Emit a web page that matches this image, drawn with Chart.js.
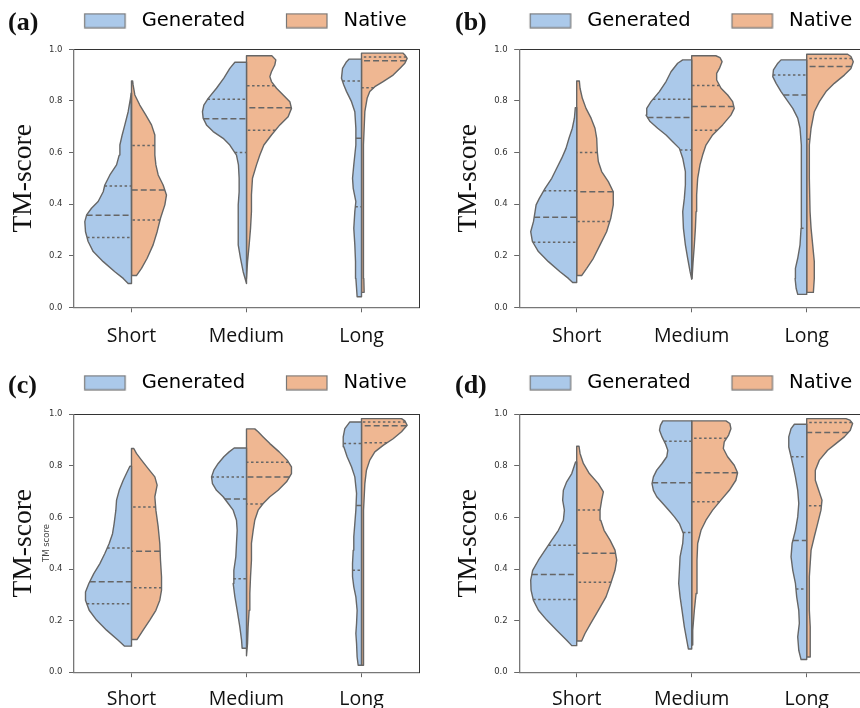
<!DOCTYPE html>
<html><head><meta charset="utf-8">
<script src="https://cdn.jsdelivr.net/npm/chart.js@4.4.0/dist/chart.umd.min.js"></script>
<style>
html,body{margin:0;padding:0;background:#fff;width:860px;height:708px;overflow:hidden;position:relative}
canvas{position:absolute}
</style></head><body>
<canvas id="ca" width="461" height="356" style="left:0px;top:0px"></canvas>
<canvas id="cb" width="492" height="356" style="left:430px;top:0px"></canvas>
<canvas id="cc" width="461" height="347" style="left:0px;top:361.5px"></canvas>
<canvas id="cd" width="492" height="347" style="left:430px;top:361.5px"></canvas>
<script>
// ---------- data ----------
const categories = ['Short', 'Medium', 'Long'];
const seriesLabels = ['Generated', 'Native'];
const panelTags = ['(a)', '(b)', '(c)', '(d)'];
const yTickValues = [0.0, 0.2, 0.4, 0.6, 0.8, 1.0];
const yTitle = 'TM-score';

// violin outlines: [TM-score, half width (category units)] from min to max
const aShortGen = [[0.092,0.029],[0.112,0.072],[0.138,0.145],[0.177,0.246],[0.216,0.333],[0.255,0.377],[0.293,0.40],[0.332,0.406],[0.358,0.39],[0.384,0.348],[0.41,0.29],[0.448,0.246],[0.474,0.232],[0.513,0.188],[0.552,0.13],[0.59,0.107],[0.629,0.101],[0.668,0.081],[0.707,0.058],[0.758,0.029],[0.81,0.009],[0.83,0.003]];
const aShortNat = [[0.123,0.043],[0.151,0.087],[0.19,0.136],[0.242,0.188],[0.293,0.223],[0.345,0.252],[0.397,0.29],[0.435,0.304],[0.474,0.275],[0.513,0.232],[0.552,0.212],[0.59,0.203],[0.629,0.203],[0.668,0.203],[0.707,0.174],[0.745,0.125],[0.784,0.072],[0.823,0.029],[0.862,0.014],[0.877,0.01]];
const aMediumGen = [[0.092,0.003],[0.138,0.029],[0.19,0.052],[0.242,0.072],[0.293,0.072],[0.345,0.072],[0.397,0.072],[0.448,0.064],[0.5,0.064],[0.552,0.07],[0.59,0.087],[0.629,0.145],[0.655,0.203],[0.681,0.29],[0.707,0.348],[0.733,0.377],[0.758,0.383],[0.784,0.371],[0.81,0.333],[0.849,0.261],[0.888,0.197],[0.926,0.145],[0.95,0.101]];
const aMediumNat = [[0.112,0.003],[0.177,0.009],[0.242,0.023],[0.306,0.035],[0.371,0.043],[0.435,0.043],[0.5,0.052],[0.552,0.087],[0.59,0.116],[0.629,0.151],[0.668,0.217],[0.707,0.29],[0.739,0.362],[0.771,0.391],[0.797,0.377],[0.823,0.319],[0.849,0.261],[0.875,0.217],[0.894,0.203],[0.913,0.217],[0.939,0.246],[0.959,0.255],[0.975,0.22]];
const aLongGen = [[0.041,0.038],[0.074,0.043],[0.112,0.049],[0.177,0.052],[0.242,0.058],[0.306,0.067],[0.371,0.058],[0.41,0.049],[0.461,0.072],[0.5,0.078],[0.552,0.067],[0.629,0.049],[0.694,0.049],[0.758,0.058],[0.797,0.087],[0.836,0.13],[0.862,0.154],[0.888,0.174],[0.926,0.165],[0.952,0.13],[0.962,0.107]];
const aLongNat = [[0.058,0.023],[0.112,0.02],[0.242,0.02],[0.371,0.014],[0.5,0.014],[0.629,0.02],[0.758,0.029],[0.81,0.049],[0.836,0.072],[0.855,0.116],[0.875,0.188],[0.9,0.275],[0.926,0.333],[0.946,0.377],[0.965,0.397],[0.978,0.377],[0.985,0.362]];

const bShortGen = [[0.096,0.035],[0.112,0.072],[0.138,0.145],[0.177,0.246],[0.216,0.333],[0.255,0.385],[0.293,0.40],[0.332,0.376],[0.371,0.362],[0.397,0.353],[0.422,0.325],[0.461,0.275],[0.5,0.217],[0.539,0.174],[0.578,0.13],[0.616,0.093],[0.655,0.067],[0.694,0.038],[0.733,0.02],[0.774,0.012]];
const bShortNat = [[0.123,0.043],[0.151,0.087],[0.19,0.145],[0.242,0.203],[0.293,0.26],[0.345,0.296],[0.397,0.318],[0.448,0.318],[0.487,0.275],[0.526,0.217],[0.565,0.188],[0.603,0.179],[0.655,0.174],[0.694,0.159],[0.733,0.125],[0.771,0.081],[0.81,0.049],[0.849,0.029],[0.877,0.023]];
const bMediumGen = [[0.109,0.003],[0.138,0.014],[0.19,0.035],[0.242,0.055],[0.306,0.072],[0.371,0.078],[0.422,0.064],[0.474,0.055],[0.526,0.055],[0.578,0.078],[0.616,0.107],[0.642,0.165],[0.668,0.223],[0.694,0.296],[0.72,0.362],[0.745,0.397],[0.771,0.391],[0.797,0.354],[0.836,0.281],[0.875,0.223],[0.913,0.18],[0.946,0.122],[0.959,0.078]];
const bMediumNat = [[0.112,0.003],[0.177,0.012],[0.242,0.023],[0.306,0.032],[0.371,0.038],[0.435,0.043],[0.5,0.052],[0.552,0.072],[0.59,0.095],[0.629,0.124],[0.668,0.182],[0.707,0.269],[0.745,0.341],[0.771,0.37],[0.797,0.356],[0.823,0.313],[0.849,0.255],[0.881,0.217],[0.907,0.217],[0.926,0.241],[0.952,0.264],[0.968,0.246],[0.975,0.21]];
const bLongGen = [[0.05,0.078],[0.074,0.092],[0.112,0.101],[0.151,0.098],[0.19,0.078],[0.242,0.058],[0.306,0.049],[0.371,0.049],[0.435,0.046],[0.5,0.046],[0.565,0.046],[0.629,0.046],[0.694,0.058],[0.733,0.078],[0.771,0.121],[0.804,0.173],[0.836,0.223],[0.868,0.266],[0.894,0.295],[0.92,0.289],[0.946,0.251],[0.959,0.223]];
const bLongNat = [[0.058,0.058],[0.112,0.066],[0.177,0.066],[0.242,0.052],[0.306,0.038],[0.371,0.029],[0.5,0.023],[0.629,0.023],[0.694,0.038],[0.758,0.066],[0.797,0.11],[0.836,0.168],[0.868,0.24],[0.9,0.327],[0.926,0.385],[0.952,0.405],[0.972,0.385],[0.981,0.356]];

const cShortGen = [[0.101,0.06],[0.124,0.116],[0.163,0.217],[0.202,0.304],[0.24,0.368],[0.279,0.40],[0.311,0.40],[0.344,0.371],[0.382,0.328],[0.421,0.275],[0.46,0.232],[0.499,0.194],[0.537,0.165],[0.576,0.151],[0.628,0.136],[0.667,0.13],[0.705,0.107],[0.744,0.072],[0.776,0.038],[0.798,0.014]];
const cShortNat = [[0.127,0.049],[0.163,0.101],[0.202,0.159],[0.24,0.212],[0.279,0.246],[0.318,0.261],[0.37,0.261],[0.434,0.252],[0.499,0.246],[0.563,0.232],[0.628,0.212],[0.68,0.203],[0.725,0.223],[0.757,0.203],[0.789,0.145],[0.822,0.087],[0.848,0.043],[0.867,0.02]];
const cMediumGen = [[0.093,0.038],[0.124,0.043],[0.176,0.058],[0.24,0.081],[0.292,0.101],[0.344,0.116],[0.395,0.11],[0.447,0.093],[0.499,0.087],[0.55,0.081],[0.589,0.087],[0.628,0.116],[0.654,0.159],[0.68,0.203],[0.705,0.261],[0.731,0.296],[0.757,0.304],[0.783,0.284],[0.809,0.246],[0.835,0.197],[0.854,0.151],[0.869,0.107]];
const cMediumNat = [[0.064,0.003],[0.111,0.009],[0.176,0.014],[0.24,0.023],[0.305,0.029],[0.37,0.035],[0.434,0.043],[0.499,0.043],[0.55,0.058],[0.589,0.072],[0.628,0.101],[0.654,0.145],[0.68,0.203],[0.705,0.275],[0.738,0.348],[0.77,0.391],[0.796,0.391],[0.822,0.354],[0.854,0.284],[0.886,0.203],[0.912,0.145],[0.932,0.101],[0.943,0.072]];
const cLongGen = [[0.027,0.029],[0.059,0.038],[0.111,0.043],[0.15,0.049],[0.189,0.043],[0.24,0.038],[0.292,0.049],[0.331,0.067],[0.37,0.078],[0.421,0.078],[0.473,0.072],[0.525,0.067],[0.576,0.058],[0.628,0.049],[0.693,0.043],[0.757,0.058],[0.796,0.087],[0.835,0.125],[0.874,0.154],[0.912,0.159],[0.944,0.145],[0.97,0.101]];
const cLongNat = [[0.027,0.014],[0.111,0.02],[0.24,0.02],[0.37,0.014],[0.499,0.014],[0.628,0.02],[0.731,0.029],[0.783,0.043],[0.822,0.072],[0.854,0.116],[0.879,0.188],[0.905,0.275],[0.932,0.348],[0.957,0.397],[0.974,0.377],[0.983,0.348]];

const dShortGen = [[0.103,0.043],[0.124,0.087],[0.163,0.174],[0.202,0.26],[0.24,0.333],[0.279,0.377],[0.318,0.397],[0.357,0.40],[0.395,0.383],[0.434,0.333],[0.473,0.275],[0.512,0.217],[0.55,0.159],[0.589,0.116],[0.628,0.107],[0.667,0.122],[0.705,0.116],[0.738,0.087],[0.77,0.043],[0.815,0.01]];
const dShortNat = [[0.121,0.043],[0.15,0.072],[0.189,0.122],[0.24,0.188],[0.292,0.255],[0.344,0.296],[0.395,0.333],[0.434,0.348],[0.473,0.333],[0.512,0.29],[0.55,0.238],[0.589,0.209],[0.628,0.203],[0.667,0.217],[0.699,0.232],[0.731,0.188],[0.77,0.11],[0.809,0.058],[0.848,0.029],[0.876,0.02]];
const dMediumGen = [[0.09,0.029],[0.124,0.043],[0.176,0.064],[0.24,0.084],[0.292,0.101],[0.344,0.113],[0.395,0.107],[0.447,0.101],[0.499,0.078],[0.537,0.072],[0.576,0.107],[0.602,0.15],[0.628,0.199],[0.654,0.251],[0.68,0.304],[0.705,0.333],[0.731,0.345],[0.757,0.333],[0.783,0.304],[0.809,0.258],[0.835,0.217],[0.86,0.208],[0.886,0.229],[0.912,0.258],[0.938,0.28],[0.957,0.272],[0.974,0.251]];
const dMediumNat = [[0.105,0.003],[0.163,0.009],[0.24,0.023],[0.305,0.038],[0.37,0.046],[0.434,0.046],[0.499,0.052],[0.55,0.081],[0.589,0.124],[0.628,0.182],[0.667,0.254],[0.705,0.327],[0.744,0.384],[0.773,0.399],[0.802,0.37],[0.835,0.312],[0.867,0.275],[0.893,0.283],[0.919,0.321],[0.944,0.341],[0.964,0.332],[0.974,0.298]];
const dLongGen = [[0.049,0.049],[0.085,0.069],[0.137,0.078],[0.189,0.064],[0.24,0.069],[0.292,0.087],[0.344,0.098],[0.395,0.121],[0.447,0.136],[0.499,0.127],[0.55,0.098],[0.602,0.078],[0.654,0.069],[0.705,0.078],[0.757,0.098],[0.796,0.116],[0.835,0.136],[0.873,0.156],[0.912,0.156],[0.944,0.136],[0.961,0.107]];
const dLongNat = [[0.059,0.029],[0.111,0.032],[0.176,0.029],[0.24,0.023],[0.37,0.023],[0.473,0.038],[0.525,0.066],[0.576,0.095],[0.628,0.124],[0.667,0.133],[0.705,0.104],[0.744,0.075],[0.783,0.075],[0.822,0.11],[0.86,0.182],[0.886,0.254],[0.912,0.327],[0.938,0.379],[0.964,0.399],[0.977,0.376],[0.983,0.341]];

// quartiles [Q1, median, Q3] per category (Short, Medium, Long)
const aQuartGen = [[0.271,0.357,0.470],[0.600,0.731,0.806],[0.390,0.655,0.877]];
const aQuartNat = [[0.338,0.455,0.627],[0.686,0.773,0.859],[0.851,0.956,0.970]];
const bQuartGen = [[0.252,0.349,0.452],[0.610,0.736,0.806],[0.306,0.823,0.900]];
const bQuartNat = [[0.333,0.448,0.600],[0.686,0.778,0.860],[0.651,0.933,0.964]];
const cQuartGen = [[0.265,0.351,0.481],[0.362,0.671,0.757],[0.395,0.646,0.886]];
const cQuartNat = [[0.327,0.469,0.640],[0.652,0.757,0.814],[0.889,0.955,0.970]];
const dQuartGen = [[0.282,0.379,0.492],[0.541,0.734,0.895],[0.322,0.510,0.835]];
const dQuartNat = [[0.349,0.461,0.629],[0.661,0.773,0.907],[0.645,0.929,0.968]];

// ---------- styling / layout ----------
const COL_GEN = '#abc9ea', COL_NAT = '#efb792', COL_EDGE = '#666666';
const panels = [
  {canvas:'ca', tag:panelTags[0], gen:[aShortGen,aMediumGen,aLongGen], nat:[aShortNat,aMediumNat,aLongNat], qg:aQuartGen, qn:aQuartNat,
   left:0, top:0, h:356, w:461, plotL:74, plotR:419, plotT:49.3, plotB:307.3, titlePad:7.5, xPad:12.4, tagX:8, tagY:30},
  {canvas:'cb', tag:panelTags[1], gen:[bShortGen,bMediumGen,bLongGen], nat:[bShortNat,bMediumNat,bLongNat], qg:bQuartGen, qn:bQuartNat,
   left:430, top:0, h:356, w:492, plotL:519.2, plotR:864.2, plotT:49.3, plotB:307.3, titlePad:22.5, xPad:12.4, tagX:25, tagY:30},
  {canvas:'cc', tag:panelTags[2], gen:[cShortGen,cMediumGen,cLongGen], nat:[cShortNat,cMediumNat,cLongNat], qg:cQuartGen, qn:cQuartNat,
   left:0, top:361.5, h:347, w:461, plotL:74, plotR:419, plotT:413.7, plotB:671.7, titlePad:7.5, xPad:10.4, tagX:8, tagY:31, note:true},
  {canvas:'cd', tag:panelTags[3], gen:[dShortGen,dMediumGen,dLongGen], nat:[dShortNat,dMediumNat,dLongNat], qg:dQuartGen, qn:dQuartNat,
   left:430, top:361.5, h:347, w:492, plotL:519.2, plotR:864.2, plotT:413.7, plotB:671.7, titlePad:22.5, xPad:10.4, tagX:25, tagY:31}
];

function widthAt(outline, v) {
  for (let k = 0; k < outline.length - 1; k++) {
    const v0 = outline[k][0], w0 = outline[k][1], v1 = outline[k+1][0], w1 = outline[k+1][1];
    if (v >= v0 && v <= v1) return w0 + (w1 - w0) * (v - v0) / (v1 - v0);
  }
  return 0;
}
function violinDataset(outline, ci, side, color) {
  const pts = [{x: ci, y: outline[0][0]}];
  outline.forEach(p => pts.push({x: ci + side * p[1], y: p[0]}));
  pts.push({x: ci, y: outline[outline.length - 1][0]});
  pts.push({x: ci, y: outline[0][0]});
  return {data: pts, showLine: true, fill: 'shape', backgroundColor: color, borderColor: COL_EDGE,
          borderWidth: 1.4, borderJoinStyle: 'round', pointRadius: 0, pointHoverRadius: 0, tension: 0, order: 2};
}
function quartDataset(outline, ci, side, q, dash) {
  const w = widthAt(outline, q);
  return {data: [{x: ci + side * w, y: q}, {x: ci, y: q}], showLine: true, fill: false, borderColor: COL_EDGE,
          borderWidth: 1.5, borderDash: dash, pointRadius: 0, pointHoverRadius: 0, order: 1};
}
function swatch(color) {
  const c = document.createElement('canvas');
  c.width = 78; c.height = 16;
  const g = c.getContext('2d');
  g.fillStyle = color; g.fillRect(30.5, 1, 40.5, 14);
  g.strokeStyle = '#777777'; g.lineWidth = 1.2; g.strokeRect(30.5, 1, 40.5, 14);
  return c;
}
const swatches = [swatch(COL_GEN), swatch(COL_NAT)];

const tagPlugin = {
  id: 'panelTag',
  afterDraw(chart, args, opts) {
    const ctx = chart.ctx;
    ctx.save();
    ctx.fillStyle = '#111111';
    ctx.font = 'bold 26px "Liberation Serif"';
    ctx.textBaseline = 'alphabetic';
    ctx.textAlign = 'left';
    ctx.fillText(opts.text, opts.x, opts.y);
    if (opts.note) {
      ctx.translate(49, 181);
      ctx.rotate(-Math.PI / 2);
      ctx.font = '8.5px "DejaVu Sans"';
      ctx.fillStyle = '#444444';
      ctx.textAlign = 'center';
      ctx.fillText('TM score', 0, 0);
    }
    ctx.restore();
  }
};

panels.forEach(P => {
  const datasets = [];
  for (let i = 0; i < categories.length; i++) {
    datasets.push(violinDataset(P.gen[i], i, -1, COL_GEN));
    datasets.push(violinDataset(P.nat[i], i, 1, COL_NAT));
    [[P.gen[i], P.qg[i], -1], [P.nat[i], P.qn[i], 1]].forEach(([ol, q, s]) => {
      datasets.push(quartDataset(ol, i, s, q[0], [2.5, 2.5]));
      datasets.push(quartDataset(ol, i, s, q[1], [6, 3]));
      datasets.push(quartDataset(ol, i, s, q[2], [2.5, 2.5]));
    });
  }
  new Chart(document.getElementById(P.canvas), {
    type: 'scatter',
    data: {datasets},
    plugins: [tagPlugin],
    options: {
      responsive: false, animation: false, events: [],
      layout: {padding: 0},
      plugins: {
        tooltip: {enabled: false},
        panelTag: {text: P.tag, x: P.tagX, y: P.tagY, note: !!P.note},
        legend: {
          display: true, position: 'top', align: 'center',
          labels: {
            usePointStyle: true, pointStyleWidth: 77.65, padding: 11,
            font: {family: 'DejaVu Sans', size: 19.5}, color: '#262626',
            generateLabels: () => seriesLabels.map((t, i) => ({
              text: t, pointStyle: swatches[i], fillStyle: i ? COL_NAT : COL_GEN,
              strokeStyle: '#777777', lineWidth: 0, hidden: false, datasetIndex: i
            }))
          }
        }
      },
      scales: {
        x: {
          type: 'linear', position: 'bottom', min: -0.5, max: 2.5,
          afterBuildTicks: ax => { ax.ticks = categories.map((c, i) => ({value: i})); },
          afterFit: ax => { ax.height = P.top + P.h - P.plotB; },
          ticks: {autoSkip: false, maxRotation: 0, minRotation: 0, padding: P.xPad,
                  callback: v => categories[v], font: {family: 'Open Sans', size: 19.5}, color: '#111111'},
          grid: {display: true, drawOnChartArea: false, drawTicks: true, tickLength: 5, color: '#666666'},
          border: {display: true, color: '#777777', width: 1.3}
        },
        xTop: {
          type: 'linear', position: 'top', min: -0.5, max: 2.5, display: true,
          afterFit: ax => { const lh = ax.chart.legend ? ax.chart.legend.height : 40.5; ax.height = P.plotT - P.top - lh; },
          ticks: {display: false}, grid: {display: false},
          border: {display: true, color: '#333333', width: 1}
        },
        y: {
          type: 'linear', position: 'left', min: 0, max: 1,
          afterBuildTicks: ax => { ax.ticks = yTickValues.map(v => ({value: v})); },
          afterFit: ax => { ax.width = P.plotL - P.left; },
          ticks: {callback: v => v.toFixed(1), font: {family: 'DejaVu Sans', size: 8.5}, color: '#333333', padding: 6.5},
          grid: {display: true, drawOnChartArea: false, drawTicks: true, tickLength: 5, color: '#666666'},
          border: {display: true, color: '#777777', width: 1.3},
          title: {display: true, text: yTitle, font: {family: 'Liberation Serif', size: 27.5}, color: '#111111',
                  padding: {top: P.titlePad, bottom: 0}}
        },
        yRight: {
          type: 'linear', position: 'right', min: 0, max: 1, display: true,
          afterFit: ax => { ax.width = P.left + P.w - P.plotR; },
          ticks: {display: false}, grid: {display: false},
          border: {display: true, color: '#333333', width: 1}
        }
      }
    }
  });
});
</script>
</body></html>
